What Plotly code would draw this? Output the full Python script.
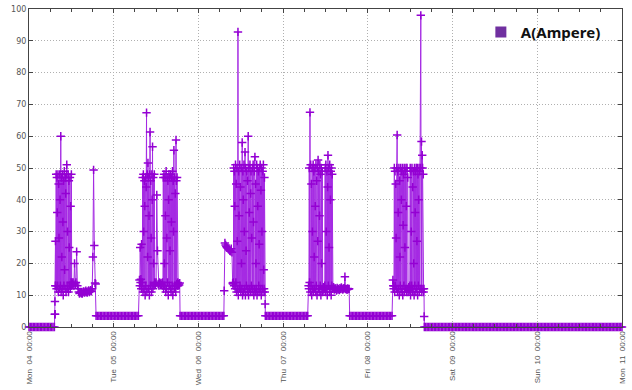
import pandas as pd
import plotly.graph_objects as go

BASE = "2019-11-04 00:00"

# Each segment: (start hour offset, sampling step in hours, values in Ampere)
mon_off = [0, 0, 0, 0, 0, 0, 0, 0, 0, 0, 0, 0, 0, 0, 0, 0, 0, 0, 0]
mon_rise = [4, 8, 4, 13, 27]
block1 = [13, 48, 12, 47, 36, 13, 48, 11, 45, 28, 12, 48, 40, 13, 60,
          11, 47, 22, 12, 48, 33, 10, 46, 13, 49, 18, 12, 47, 42, 11,
          48, 51, 13, 30, 12, 48, 11, 46, 25, 13, 47, 12, 38, 14, 48, 13, 14]
post1 = [13.5, 14, 13, 20, 13.5, 14, 23.7, 13, 12, 11, 10.5, 10.8, 11, 10.6, 10.5, 11, 11.2,
         10.8, 11, 11.4, 11, 10.8, 11.2, 11.5, 11, 11.3, 11.6, 11.2, 12, 22, 49.4, 25.6, 13.8, 13.5]
tue_idle = [3.5, 3.5, 3.5, 3.5, 3.5, 3.5, 3.5, 3.5, 3.5, 3.5, 3.5, 3.5, 3.5, 3.5, 3.5, 3.5,
            3.5, 3.5, 3.5, 3.5, 3.5, 3.5, 3.5, 3.5, 3.5, 3.5, 3.5, 3.5, 3.5, 3.5, 3.5]
block2 = [14.8, 13, 25, 14, 15, 12, 26, 13, 14, 47,
          11, 48, 30, 12, 46, 38, 10, 47, 13, 44,
          67.4, 11, 48, 22, 51.6, 12, 47, 35, 10, 48,
          61.3, 13, 46, 28, 11, 48, 40, 56.7, 12, 47,
          20, 13, 48, 14, 13.5]
mid2 = [13.5, 14, 41.5, 24, 13.5, 13, 14, 13.5, 13.8, 13.2, 14]
block3 = [13, 47, 12, 48, 20, 13, 47, 35, 11, 49,
          12, 28, 47, 14, 46, 10, 40, 48, 13, 47,
          24, 12, 48, 11, 33, 47, 13, 49, 10, 46,
          30, 55.6, 12, 47, 13, 42, 11, 58.8, 46, 13.5,
          47, 13, 14, 13]
post3 = [13.5, 13.2, 13.8]
wed_idle = [3.5, 3.5, 3.5, 3.5, 3.5, 3.5, 3.5, 3.5, 3.5, 3.5, 3.5, 3.5, 3.5, 3.5, 3.5, 3.5,
            3.5, 3.5, 3.5, 3.5, 3.5, 3.5, 3.5, 3.5, 3.5, 3.5, 3.5, 3.5, 3.5, 3.5, 3.5, 3.5]
pre4 = [11.4, 26.4, 25.8, 25.3, 25, 24.8, 24.5, 24.3, 24, 23.8, 24.6, 23.5, 13.8]
block4 = [13.5, 14, 50, 13, 49, 38, 12, 51, 14, 45,
          11, 50, 27, 12, 92.8, 10, 49, 35, 12, 51,
          13, 44, 11, 50, 20, 12, 58, 10, 49, 40,
          11, 51, 30, 12, 55, 10, 50, 24, 13, 49,
          11, 46, 12, 60, 10, 50, 36, 12, 51, 11,
          42, 49, 13, 28, 11, 50, 12, 51, 33, 10,
          49, 12, 53.5, 11, 45, 20, 12, 51, 10, 50,
          38, 11, 49, 13, 26, 50, 11, 51, 12, 43,
          10, 50, 30, 12, 49, 11, 51, 18, 12, 47,
          11, 7.2]
thu_idle = [3.5, 3.5, 3.5, 3.5, 3.5, 3.5, 3.5, 3.5, 3.5, 3.5, 3.5, 3.5, 3.5, 3.5, 3.5, 3.5,
            3.5, 3.5, 3.5, 3.5, 3.5, 3.5, 3.5, 3.5, 3.5, 3.5, 3.5, 3.5, 3.5, 3.5, 3.5]
block5 = [13, 12, 50, 14, 67.5, 11, 51, 13, 45, 10,
          50, 30, 12, 51, 11, 49, 22, 12, 50, 38,
          11, 51, 13, 46, 10, 50, 27, 52.5, 12, 49,
          11, 35, 51, 13, 48, 10, 50, 20, 12, 49,
          11, 12, 12.5, 11.8, 12.2, 12, 13, 50, 11, 51,
          30, 12, 49, 10, 44, 54, 13, 50, 25, 11,
          51, 12, 40, 49, 10, 50, 13, 48, 12]
tail5 = [12, 12.5, 11.8, 12.2, 12, 11.5, 12.3, 11.8, 12, 11.6, 12.2, 11.9, 12.4, 12, 11.8,
         12.1, 12.2, 15.8, 11.9, 12, 11.7, 12.1, 11.9, 12]
fri_idle = [3.5, 3.5, 3.5, 3.5, 3.5, 3.5, 3.5, 3.5, 3.5, 3.5, 3.5, 3.5, 3.5, 3.5, 3.5, 3.5,
            3.5, 3.5, 3.5, 3.5, 3.5, 3.5, 3.5, 3.5, 3.5, 3.5, 3.5, 3.5, 3.5, 3.5, 3.5]
block6 = [14.8, 13, 12, 13, 50, 11, 49, 13, 45, 28,
          12, 50, 60.4, 11, 49, 36, 12, 50, 10, 46,
          22, 13, 50, 11, 40, 49, 12, 50, 10, 32,
          48, 13, 50, 11, 25, 49, 12, 50, 38, 11,
          50, 12, 47, 11, 12, 12.5, 11.5, 12, 13, 50,
          10, 49, 30, 13, 50, 11, 44, 12, 49, 20,
          10, 50, 13, 36, 49, 11, 50, 12, 27, 50,
          10, 48, 13, 40, 50, 11, 49, 12, 50, 98,
          12, 58.3, 11, 54, 50, 12, 48, 11, 12]
end6 = [3.3]
weekend_off = [0, 0, 0, 0, 0, 0, 0, 0, 0, 0, 0, 0, 0, 0, 0, 0, 0, 0, 0, 0,
               0, 0, 0, 0, 0, 0, 0, 0, 0, 0, 0, 0, 0, 0, 0, 0, 0, 0, 0, 0,
               0, 0, 0, 0, 0, 0, 0, 0, 0, 0, 0, 0, 0, 0, 0, 0, 0, 0, 0, 0,
               0, 0, 0, 0, 0, 0, 0, 0, 0, 0, 0, 0, 0, 0, 0, 0, 0, 0, 0, 0,
               0, 0, 0, 0, 0, 0, 0, 0, 0, 0, 0, 0, 0, 0, 0, 0, 0, 0, 0, 0,
               0, 0, 0, 0, 0, 0, 0, 0, 0, 0, 0, 0, 0, 0, 0, 0, 0, 0, 0, 0,
               0, 0, 0, 0, 0, 0, 0, 0, 0, 0, 0, 0, 0, 0, 0, 0, 0, 0, 0, 0, 0]

segments = [
    (0.0, 0.4, mon_off),
    (7.3, 0.05, mon_rise),
    (7.6, 0.1, block1),
    (12.3, 0.2, post1),
    (19.0, 0.4, tue_idle),
    (31.3, 0.1, block2),
    (35.8, 0.2, mid2),
    (37.95, 0.1, block3),
    (42.4, 0.15, post3),
    (42.8, 0.4, wed_idle),
    (55.3, 0.2, pre4),
    (57.8, 0.1, block4),
    (66.95, 0.4, thu_idle),
    (79.2, 0.1, block5),
    (86.1, 0.2, tail5),
    (90.85, 0.4, fri_idle),
    (103.1, 0.1, block6),
    (111.95, 0.05, end6),
    (112.0, 0.4, weekend_off),
]

base = pd.Timestamp(BASE)
xs, ys = [], []
for start, step, vals in segments:
    for i, v in enumerate(vals):
        xs.append(base + pd.Timedelta(hours=start + i * step))
        ys.append(v)

fig = go.Figure()
fig.add_trace(go.Scatter(
    x=xs, y=ys, mode="lines+markers", showlegend=False, cliponaxis=False,
    line=dict(color="#A52BE3", width=1),
    marker=dict(symbol="cross-thin", size=6, line=dict(color="#9400D3", width=1.5)),
))
fig.add_trace(go.Scatter(
    x=[None], y=[None], mode="markers", name="<b>A(Ampere)</b>",
    marker=dict(symbol="square", size=11, color="#7030A0"),
))

ytick_font = dict(family="DejaVu Sans", size=8, color="#555555")
xtick_font = dict(family="Liberation Sans", size=8, color="#555555")
grid = dict(showgrid=True, gridcolor="#b0b0b0", griddash="1px,2px", gridwidth=1)
fig.update_layout(
    width=632, height=390,
    margin=dict(l=29, r=10, t=9, b=63),
    paper_bgcolor="white", plot_bgcolor="white",
    legend=dict(x=0.762, y=0.927, xanchor="left", yanchor="middle",
                font=dict(family="Noto Sans", size=15, color="#111111"),
                bgcolor="rgba(0,0,0,0)", itemwidth=30),
    xaxis=dict(
        type="date", range=["2019-11-04 00:00", "2019-11-11 00:00"],
        tick0="2019-11-04", dtick=86400000, automargin=False,
        tickformat="%a\u00a0 %d\u00a0 %H:%M", tickangle=-90,
        tickfont=xtick_font, ticks="inside", ticklen=4, tickcolor="#444",
        ticklabeloverflow="allow",
        showline=True, linecolor="#444", linewidth=1, mirror="allticks",
        minor=dict(dtick=6 * 3600 * 1000, ticks="inside", ticklen=3, tickcolor="#444", showgrid=False),
        zeroline=False, **grid,
    ),
    yaxis=dict(
        range=[0, 100], dtick=10, tickfont=ytick_font, automargin=False,
        ticks="inside", ticklen=4, tickcolor="#444", ticklabeloverflow="allow",
        showline=True, linecolor="#444", linewidth=1, mirror="allticks",
        zeroline=False, **grid,
    ),
)
fig.write_html("out.html", config={"displayModeBar": False},
               post_script="document.body.style.margin='0';")
